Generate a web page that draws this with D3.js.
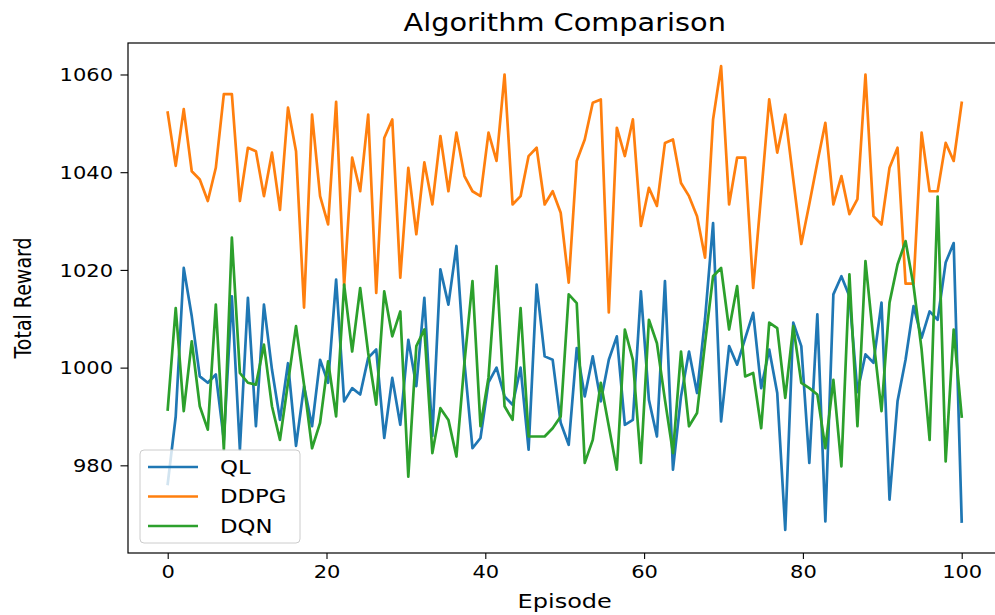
<!DOCTYPE html>
<html>
<head>
<meta charset="utf-8">
<script src="https://cdn.jsdelivr.net/npm/d3@7"></script>
<style>
  html, body { margin: 0; padding: 0; background: #fff; }
  svg { display: block; font-family: "DejaVu Sans", sans-serif; }
</style>
</head>
<body>
<svg id="chart" width="995" height="615"></svg>
<script>
const seriesNames = ["QL", "DDPG", "DQN"];
const seriesColors = ["#1f77b4", "#ff7f0e", "#2ca02c"];
const xTickValues = [0, 20, 40, 60, 80, 100];
const yTickValues = [980, 1000, 1020, 1040, 1060];
const episodeRange = [0, 100];   // episodes span 0..100 on the x axis

const ql = [976.2, 990, 1020.4, 1010.5, 998.2, 996.9, 998.6, 985.2, 1014.6, 983.2,
  1014.3, 988, 1012.9, 999.6, 989.3, 1000.9, 984, 996.2, 988, 1001.6,
  996.9, 1018, 993.1, 995.8, 994.5, 1002, 1003.7, 985.6, 997.9, 988.3,
  1005.7, 996.2, 1014.3, 986, 1020.1, 1012.9, 1024.9, 1001, 983.5, 985.6,
  997, 1000, 994.1, 992.4, 1000, 983.2, 1017, 1002.3, 1001.6, 988.7,
  984.2, 1004, 994.1, 1002.3, 993.1, 1001.6, 1006.4, 988.3, 989.3, 1015.6,
  993.4, 985.9, 1017.7, 979.1, 994.1, 1003.3, 994.8, 1010, 1029.6, 989,
  1004.4, 1000.6, 1006, 1011.2, 995.8, 1003.7, 994.8, 966.8, 1009.2, 1004.4,
  980.5, 1010.9, 968.5, 1015, 1018.7, 1014.6, 995, 1002.7, 1001, 1013.3,
  973, 993.1, 1001.6, 1012.6, 1006.1, 1011.5, 1009.8, 1021.5, 1025.5, 968.5];

const ddpg = [1052.2, 1041.3, 1052.9, 1040.2, 1038.5, 1034.1, 1040.9, 1056, 1056, 1034.1,
  1045, 1044.3, 1035.1, 1044, 1032.3, 1053.2, 1044.3, 1012.3, 1051.8, 1035.1,
  1029.3, 1054.4, 1016.7, 1043, 1036.1, 1051.8, 1015.3, 1047, 1050.8, 1018.4,
  1040.9, 1027.3, 1042, 1033.4, 1047.4, 1036.1, 1048.1, 1039.2, 1036.1, 1035.1,
  1048.1, 1042.3, 1060, 1033.4, 1035.1, 1043.3, 1045, 1033.4, 1036.1, 1031.7,
  1017.4, 1042.3, 1046.7, 1054.2, 1054.9, 1011.3, 1049.1, 1043.3, 1050.8, 1029,
  1036.8, 1033.1, 1046, 1046.7, 1037.8, 1035.1, 1031, 1022.5, 1050.8, 1061.7,
  1033.4, 1043, 1043, 1016.3, 1035.5, 1054.9, 1044, 1051.8, 1038.5, 1025.3,
  1033.5, 1042, 1050.1, 1033.4, 1039.2, 1031.4, 1034.5, 1060, 1031, 1029.3,
  1040.9, 1045, 1017.2, 1017.2, 1048.1, 1036.1, 1036.1, 1046, 1042.3, 1054.2];

const dqn = [991.4, 1012.2, 991.1, 1005.4, 992.1, 987.3, 1012.9, 983.2, 1026.6, 998.9,
  996.9, 996.5, 1004.7, 992.1, 985.2, 996.9, 1008.5, 996.5, 983.5, 988.7,
  1001.3, 990, 1017, 1003.3, 1016.3, 1003, 992.4, 1015.6, 1006.4, 1011.5,
  977.7, 1004.4, 1007.8, 982.5, 991.7, 989.3, 981.8, 1001, 1017.7, 988,
  998, 1020.8, 992.1, 989.3, 1012.2, 985.9, 985.9, 985.9, 987.6, 990,
  1015, 1013.2, 980.5, 985.2, 996.9, 988, 979.1, 1007.8, 1001.6, 980.5,
  1009.8, 1005, 993.4, 982.5, 1003.3, 988, 990.7, 1005, 1018.7, 1020.4,
  1007.8, 1016.7, 998.2, 998.9, 987.6, 1009.2, 1008.1, 993.8, 1008.5, 996.9,
  995.8, 994.5, 983.5, 997.5, 979.8, 1019.1, 988, 1021.8, 1005.7, 991.1,
  1013.3, 1021.1, 1025.9, 1016.7, 1003.7, 985.2, 1035, 980.8, 1007.8, 990];

const allSeries = [ql, ddpg, dqn];

// ---- layout ----
const SX = 1.2;          // horizontal stretch of the reference raster text
const plotL = 128, plotR = 1001.4, plotT = 43, plotB = 553;

const svg = d3.select("#chart");

const xPad = (episodeRange[1] - episodeRange[0]) * 0.05;
const x = d3.scaleLinear().domain([episodeRange[0] - xPad, episodeRange[1] + xPad]).range([plotL, plotR]);
// point index -> episode position (points evenly spread over the episode range)
const idx = d3.scaleLinear().domain([0, ql.length - 1]).range(episodeRange);

const allVals = allSeries.flat();
const yExt = d3.extent(allVals);
const yPad = (yExt[1] - yExt[0]) * 0.05;
const y = d3.scaleLinear().domain([yExt[0] - yPad, yExt[1] + yPad]).range([plotB, plotT]);

// lines
const line = d3.line().x((d, i) => x(idx(i))).y(d => y(d));
const gLines = svg.append("g");
allSeries.forEach((s, k) => {
  gLines.append("path")
    .datum(s)
    .attr("d", line)
    .attr("fill", "none")
    .attr("stroke", seriesColors[k])
    .attr("stroke-width", 2.7)
    .attr("stroke-linejoin", "round")
    .attr("stroke-linecap", "square");
});

// axes
const xAxis = d3.axisBottom(x).tickValues(xTickValues).tickSize(6).tickPadding(0).tickFormat(d3.format("d"));
const gx = svg.append("g").attr("transform", `translate(0,${plotB})`).call(xAxis);
gx.select(".domain").remove();
gx.selectAll(".tick line").attr("stroke", "#000").attr("stroke-width", 1.1);
gx.selectAll(".tick text")
  .attr("y", 0).attr("dy", null)
  .attr("transform", `translate(0,25) scale(${SX},1)`)
  .attr("font-size", 17.5).attr("fill", "#000")
  .attr("font-family", "DejaVu Sans");

const yAxis = d3.axisLeft(y).tickValues(yTickValues).tickSize(7.5).tickPadding(0).tickFormat(d3.format("d"));
const gy = svg.append("g").attr("transform", `translate(${plotL},0)`).call(yAxis);
gy.select(".domain").remove();
gy.selectAll(".tick line").attr("stroke", "#000").attr("stroke-width", 1.1);
gy.selectAll(".tick text")
  .attr("x", 0).attr("dy", "0.35em")
  .attr("transform", `translate(-15,0) scale(${SX},1)`)
  .attr("font-size", 17.5).attr("fill", "#000")
  .attr("font-family", "DejaVu Sans");

// frame
svg.append("rect")
  .attr("x", plotL).attr("y", plotT)
  .attr("width", plotR - plotL).attr("height", plotB - plotT)
  .attr("fill", "none").attr("stroke", "#000").attr("stroke-width", 1.2);

// title & labels
svg.append("text")
  .attr("transform", `translate(${(plotL + plotR) / 2},31) scale(${SX},1)`)
  .attr("text-anchor", "middle").attr("font-size", 24).attr("fill", "#000")
  .text("Algorithm Comparison");

svg.append("text")
  .attr("transform", `translate(${(plotL + plotR) / 2},608) scale(${SX},1)`)
  .attr("text-anchor", "middle").attr("font-size", 20).attr("fill", "#000")
  .text("Episode");

svg.append("text")
  .attr("transform", `translate(31,${(plotT + plotB) / 2}) rotate(-90) scale(1,${SX})`)
  .attr("text-anchor", "middle").attr("font-size", 19).attr("fill", "#000")
  .text("Total Reward");

// legend
const leg = svg.append("g").attr("transform", "translate(140,450)");
leg.append("rect")
  .attr("x", 0).attr("y", 0).attr("width", 160).attr("height", 93)
  .attr("rx", 4).attr("ry", 4)
  .attr("fill", "#fff").attr("fill-opacity", 0.8)
  .attr("stroke", "#cccccc").attr("stroke-width", 1);
seriesNames.forEach((name, k) => {
  const cy = 17 + k * 29.5;
  leg.append("line")
    .attr("x1", 8).attr("x2", 58).attr("y1", cy).attr("y2", cy)
    .attr("stroke", seriesColors[k]).attr("stroke-width", 2.7);
  leg.append("text")
    .attr("transform", `translate(80,${cy}) scale(${SX},1)`)
    .attr("dy", "0.36em")
    .attr("font-size", 19).attr("fill", "#000")
    .text(name);
});
</script>
</body>
</html>
